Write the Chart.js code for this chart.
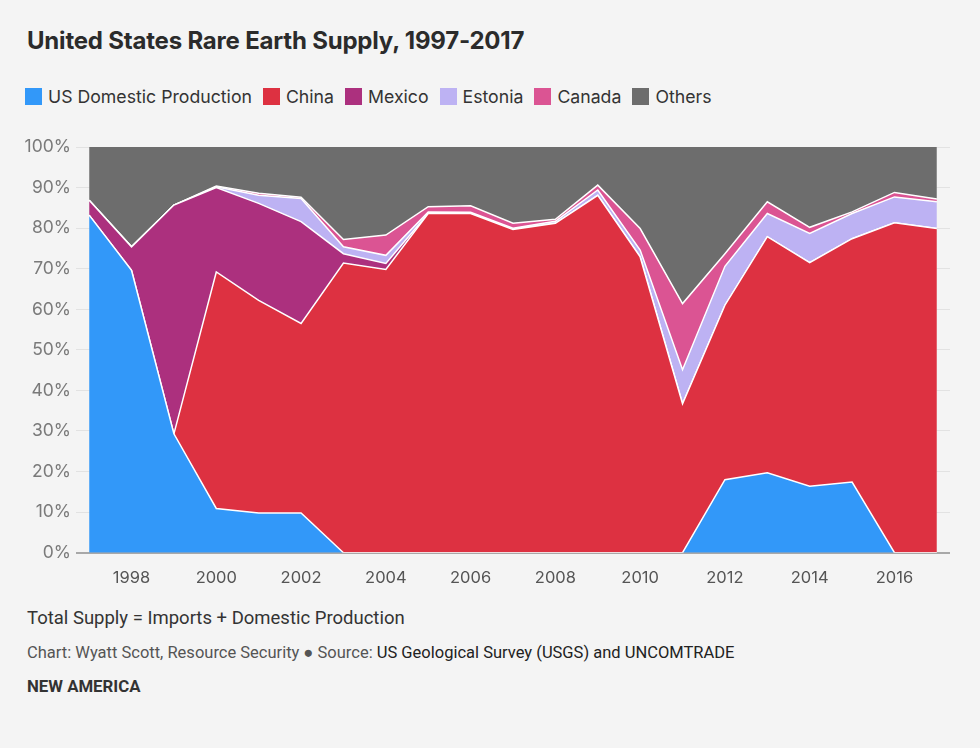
<!DOCTYPE html>
<html>
<head>
<meta charset="utf-8">
<script src="https://cdn.jsdelivr.net/npm/chart.js@4"></script>
<style>
  body { margin:0; background:#f4f4f4; width:980px; height:748px; position:relative; overflow:hidden; font-family:Inter, "Noto Sans", sans-serif; }
  #title { position:absolute; left:27px; top:26px; font-size:24px; font-weight:700; color:#2b2b2b; letter-spacing:-0.2px; }
  #legend { position:absolute; left:25px; top:86px; font-size:17.7px; color:#333; white-space:nowrap; }
  #legend span.item { display:inline-flex; align-items:center; margin-right:11px; }
  #legend i { display:inline-block; width:17px; height:17px; margin-right:6px; }
  #wrap { position:absolute; left:0; top:130px; width:980px; height:460px; }
  #note { position:absolute; left:27px; top:607px; font-family:Roboto, sans-serif; font-size:18.5px; color:#333; }
  #src { position:absolute; left:27px; top:643px; font-family:Roboto, sans-serif; font-size:16.5px; color:#555; }
  #src b { font-weight:400; color:#222; }
  #brand { position:absolute; left:27px; top:676px; font-family:Roboto, sans-serif; font-size:16.8px; font-weight:700; color:#333; }
</style>
</head>
<body>
<div id="title">United States Rare Earth Supply, 1997-2017</div>
<div id="legend"></div>
<div id="wrap"><canvas id="myChart"></canvas></div>
<div id="note">Total Supply = Imports + Domestic Production</div>
<div id="src">Chart: Wyatt Scott, Resource Security ● Source: <b>US Geological Survey (USGS) and UNCOMTRADE</b></div>
<div id="brand">NEW AMERICA</div>
<script>
const years = [1997,1998,1999,2000,2001,2002,2003,2004,2005,2006,2007,2008,2009,2010,2011,2012,2013,2014,2015,2016,2017];
const usDomestic = [83.2,69.6,29.3,10.9,9.8,9.8,0,0,0,0,0,0,0,0,0,18.0,19.7,16.4,17.4,0,0];
const china   = [0,0,0,58.3,52.4,46.7,71.4,69.8,83.6,83.6,79.7,81.2,88.1,72.9,36.7,43.0,58.2,55.1,60.0,81.3,79.9];
const mexico  = [3.7,5.8,56.4,20.8,23.9,25.1,2.3,1.5,0,0,0,0,0,0,0,0,0,0,0,0,0];
const estonia = [0,0,0,0.2,2.0,5.7,1.7,2.0,0.4,0.3,0.3,0.5,1.3,1.7,8.4,9.6,5.7,7.2,6.2,6.4,6.6];
const canada  = [0,0,0,0.2,0.5,0.3,1.8,5.0,1.3,1.6,1.2,0.5,1.2,5.3,16.3,3.1,2.9,1.5,0.4,1.1,0.7];
const others  = [13.1,24.6,14.3,9.6,11.4,12.4,22.8,21.7,14.7,14.5,18.8,17.8,9.4,20.1,38.6,26.3,13.5,19.8,16.0,11.2,12.8];
const tickYears = [1998,2000,2002,2004,2006,2008,2010,2012,2014,2016];

const names  = ["US Domestic Production","China","Mexico","Estonia","Canada","Others"];
const series = [usDomestic, china, mexico, estonia, canada, others];
const colors = ["#3298f9","#dd3141","#ac307e","#bdb2f3","#db5493","#6d6d6d"];

const datasets = series.map((vals, k) => ({
  label: names[k],
  data: vals.map((v, i) => ({x: years[i], y: v})),
  backgroundColor: colors[k],
  borderColor: "#fff",
  borderWidth: k == 5 ? 0 : 1.5,
  fill: k == 0 ? "origin" : "-1",
  pointRadius: 0,
  tension: 0
}));

// html legend
document.getElementById("legend").innerHTML = names.map((n, k) =>
  '<span class="item"><i style="background:' + colors[k] + '"></i>' + n + '</span>').join("");

new Chart("myChart", {
  type: "line",
  data: { datasets: datasets },
  options: {
    responsive: true,
    maintainAspectRatio: false,
    animation: false,
    layout: { padding: { top: 17, right: 30, left: 0, bottom: 0 } },
    plugins: { legend: {display: false}, tooltip: {enabled: false} },
    scales: {
      x: {
        type: "linear",
        min: 1996.69,
        max: 2017.31,
        z: 1,
        afterBuildTicks: (axis) => { axis.ticks = tickYears.map(v => ({value: v})); },
        afterFit: (axis) => { axis.height = 37.3; },
        grid: { display: false },
        border: { display: false },
        ticks: {
          callback: v => String(v),
          color: "#555",
          padding: 7,
          maxRotation: 0,
          font: { family: "Inter", size: 16.5 }
        }
      },
      y: {
        stacked: true,
        min: 0,
        max: 100,
        z: 1,
        afterFit: (axis) => { axis.width = 76; },
        grid: {
          drawTicks: false,
          color: ctx => ctx.tick && ctx.tick.value === 0 ? "#a8a8a8" : "rgba(0,0,0,0.07)",
          lineWidth: ctx => ctx.tick && ctx.tick.value === 0 ? 2 : 1
        },
        border: { display: false },
        ticks: {
          stepSize: 10,
          padding: 5,
          color: "#7a7a7a",
          callback: v => v + "%",
          font: { family: "Inter", size: 17.5 }
        }
      }
    }
  }
});
</script>
</body>
</html>
